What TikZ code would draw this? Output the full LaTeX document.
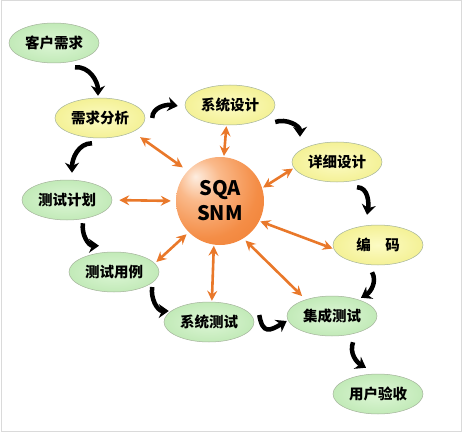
\documentclass[tikz,border=0pt]{standalone}
\usepackage{fontspec}
\newfontfamily\cjk{Noto Sans CJK SC}
\usepackage{tikz}
\usetikzlibrary{arrows.meta, shapes.geometric}
\definecolor{LeafGreen}{HTML}{DDF6D6}
\definecolor{LeafGreenEdge}{HTML}{C2EAB8}
\definecolor{PaleYellow}{HTML}{FCFBC4}
\definecolor{PaleYellowEdge}{HTML}{F4F196}
\definecolor{RimGrey}{HTML}{A3B29A}
\definecolor{SignalOrange}{HTML}{E9782A}
\definecolor{FrameGrey}{HTML}{DADADA}
\definecolor{BallA}{HTML}{FDEDE0}
\definecolor{BallB}{HTML}{FAB98A}
\definecolor{BallC}{HTML}{F48D46}
\definecolor{BallD}{HTML}{EE7424}
\pgfdeclareradialshading{sqaball}{\pgfpoint{-14bp}{14bp}}{%
  color(0bp)=(BallA); color(12bp)=(BallB); color(30bp)=(BallC);
  color(55bp)=(BallD); color(80bp)=(BallD)}

\begin{document}
\begin{tikzpicture}[x=1pt, y=1pt,
    stage/.style={ellipse, draw=RimGrey, line width=0.5pt, minimum width=90pt, minimum height=40pt, inner sep=0pt, font=\cjk\bfseries\fontsize{14.5}{16}\selectfont},
    greenstage/.style={stage, shading=radial, inner color=LeafGreen, outer color=LeafGreenEdge},
    yellowstage/.style={stage, shading=radial, inner color=PaleYellow, outer color=PaleYellowEdge},
    hub/.style={circle, minimum size=88pt, inner sep=0pt, align=center, shading=sqaball, font=\cjk\bfseries\fontsize{20}{25}\selectfont},
    ringarr/.style={{Stealth[length=10pt, width=10pt, inset=3.5pt]}-{Stealth[length=10pt, width=10pt, inset=3.5pt]}, SignalOrange, line width=2.6pt},
    flowarr/.style={-{Stealth[length=10pt, width=14pt]}, black, line width=4.5pt}
  ]
  \useasboundingbox (0,0) rectangle (463,-433);
  \draw[FrameGrey, line width=1pt] (1,-1) rectangle (461.5,-431.5);

  % hub
  \node[hub] (core) at (220,-201) {SQA\\SNM};

  % stages
  \node[greenstage]  (req)     at (54,-43)   {客户需求};
  \node[yellowstage] (anal)    at (100,-118) {需求分析};
  \node[yellowstage] (sysd)    at (230,-105) {系统设计};
  \node[yellowstage] (detd)    at (337,-162) {详细设计};
  \node[yellowstage] (code)    at (378,-245) {编\hspace{1em}码};
  \node[greenstage]  (integ)   at (332,-316) {集成测试};
  \node[greenstage]  (accept)  at (378,-394) {用户验收};
  \node[greenstage]  (systest) at (209,-322) {系统测试};
  \node[greenstage]  (tcase)   at (114,-272) {测试用例};
  \node[greenstage]  (tplan)   at (67,-200)  {测试计划};

  % links to the hub
  \draw[ringarr, shorten <=9pt, shorten >=6pt] (anal.-23) -- (core.137);
  \draw[ringarr, shorten <=1pt, shorten >=1pt] (sysd.-100) -- (core.85);
  \draw[ringarr, shorten <=1pt, shorten >=1pt] (detd.188) -- (core.17);
  \draw[ringarr, shorten <=7pt, shorten >=5pt] (tplan.east) -- (core.west);
  \draw[ringarr, shorten <=1pt, shorten >=1pt] (core.-27) -- (code.185);
  \draw[ringarr, shorten <=2pt, shorten >=3pt] (tcase.12) -- (core.225);
  \draw[ringarr, shorten <=1pt, shorten >=1pt] (core.-98) -- (systest.82);
  \draw[ringarr, shorten <=3pt, shorten >=5pt] (core.-58) -- (integ.148);

  % process flow
  \draw[flowarr] ([shift={(21,-4)}]req.south) to[out=5, in=90] ([shift={(-2,2)}]anal.north);
  \draw[flowarr] ([shift={(7,0)}]anal.east) to[out=90, in=170] ([shift={(-7,-1)}]sysd.west);
  \draw[flowarr] ([shift={(0,-17)}]sysd.east) to[out=20, in=90] ([shift={(-37,5)}]detd.north);
  \draw[flowarr] ([shift={(20,-5)}]detd.south) to[out=0, in=80] ([shift={(-11,10)}]code.north);
  \draw[flowarr] ([shift={(-6,-7)}]code.south) to[out=-60, in=30] ([shift={(29,-2)}]integ.north);
  \draw[flowarr] ([shift={(5,7)}]systest.east) to[out=-80, in=-150, looseness=1.8] ([shift={(0,-5)}]integ.west);
  \draw[flowarr] ([shift={(-8,-5)}]anal.south) to[out=180, in=90] ([shift={(5,7)}]tplan.north);
  \draw[flowarr] ([shift={(16,-3)}]tplan.south) to[out=-100, in=180] ([shift={(-15,6)}]tcase.north);
  \draw[flowarr] ([shift={(-7,-15)}]tcase.east) to[out=-100, in=180] ([shift={(5,11)}]systest.west);
  \draw[flowarr] ([shift={(21,-6)}]integ.south) to[out=-110, in=150] ([shift={(-12,6)}]accept.north);
\end{tikzpicture}
\end{document}
